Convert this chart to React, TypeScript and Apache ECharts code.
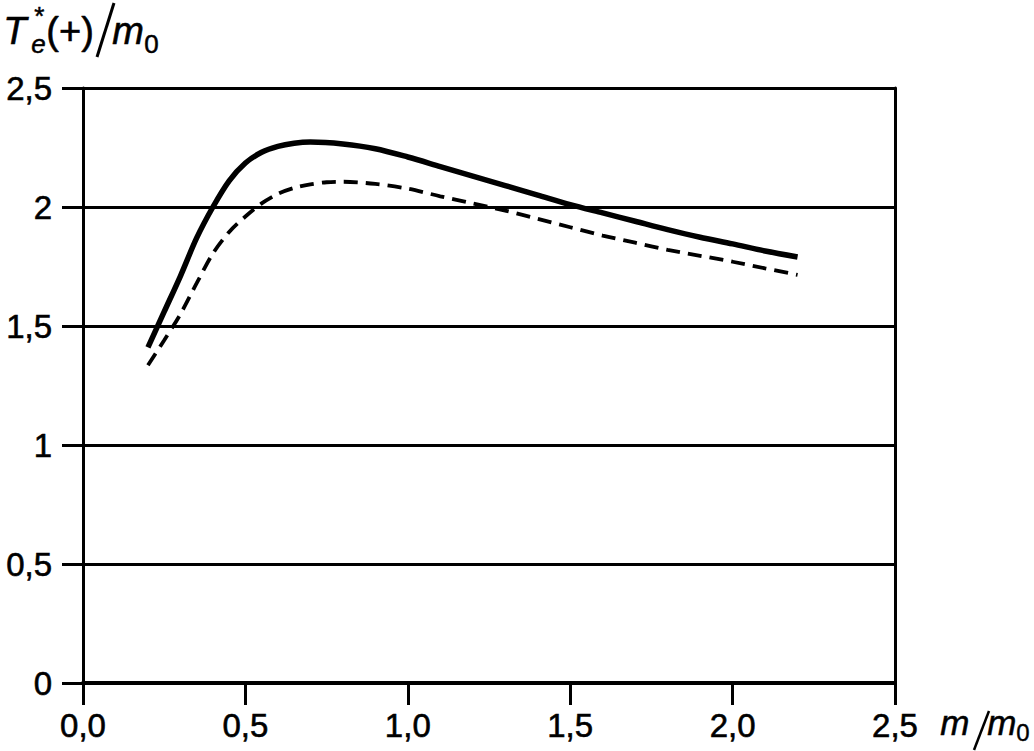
import React, { useEffect, useRef } from "react";
import * as echarts from "echarts";

const xTicks = [0, 0.5, 1.0, 1.5, 2.0, 2.5];
const yTicks = [0, 0.5, 1, 1.5, 2, 2.5];

// solid curve (m/m0, Te*(+)/m0)
const solidX = [0.2, 0.25, 0.3, 0.35, 0.4, 0.45, 0.5, 0.55, 0.6, 0.65, 0.7, 0.8, 0.9, 1.0, 1.1, 1.2, 1.3, 1.4, 1.5, 1.6, 1.7, 1.8, 1.9, 2.0, 2.1, 2.2];
const solidY = [1.41, 1.56, 1.71, 1.87, 2.0, 2.11, 2.185, 2.23, 2.255, 2.268, 2.273, 2.265, 2.245, 2.21, 2.17, 2.13, 2.09, 2.05, 2.01, 1.975, 1.94, 1.905, 1.873, 1.845, 1.815, 1.79];

// dashed curve
const dashX = [0.2, 0.25, 0.3, 0.35, 0.4, 0.45, 0.5, 0.55, 0.6, 0.65, 0.7, 0.75, 0.8, 0.9, 1.0, 1.1, 1.2, 1.3, 1.4, 1.5, 1.6, 1.7, 1.8, 1.9, 2.0, 2.1, 2.2];
const dashY = [1.335, 1.44, 1.55, 1.68, 1.805, 1.895, 1.96, 2.015, 2.055, 2.08, 2.095, 2.104, 2.106, 2.097, 2.077, 2.045, 2.015, 1.985, 1.95, 1.915, 1.88, 1.85, 1.82, 1.795, 1.77, 1.742, 1.715];

const FONT = "Liberation Sans";

export default function App() {
  const ref = useRef<HTMLDivElement>(null);
  useEffect(() => {
    if (!ref.current) return;
    const chart = echarts.init(ref.current, null, { renderer: "svg" });
    const labelStyle = {
      color: "#000",
      fontFamily: FONT,
      fontSize: 33,
      textBorderColor: "#000",
      textBorderWidth: 0.6,
    };
    chart.setOption({
      animation: false,
      backgroundColor: "#ffffff",
      grid: { left: 83, right: 139, top: 88, bottom: 68, containLabel: false },
      xAxis: {
        type: "value",
        min: xTicks[0],
        max: xTicks[xTicks.length - 1],
        interval: 0.5,
        axisLine: { show: true, onZero: false, lineStyle: { color: "#000", width: 4 } },
        axisTick: { show: true, length: 22, inside: false, lineStyle: { color: "#000", width: 3 } },
        axisLabel: {
          ...labelStyle,
          margin: 26,
          formatter: (v: number) => v.toFixed(1).replace(".", ","),
        },
        splitLine: { show: false },
      },
      yAxis: [
        {
          type: "value",
          min: yTicks[0],
          max: yTicks[yTicks.length - 1],
          interval: 0.5,
          axisLine: { show: true, lineStyle: { color: "#000", width: 3 } },
          axisTick: { show: true, length: 21, lineStyle: { color: "#000", width: 3 } },
          axisLabel: {
            ...labelStyle,
            margin: 31,
            formatter: (v: number) => String(v).replace(".", ","),
          },
          splitLine: { show: true, lineStyle: { color: "#000", width: 3 } },
        },
        {
          type: "value",
          min: yTicks[0],
          max: yTicks[yTicks.length - 1],
          interval: 0.5,
          position: "right",
          axisLine: { show: true, lineStyle: { color: "#000", width: 3 } },
          axisTick: { show: false },
          axisLabel: { show: false },
          splitLine: { show: false },
        },
      ],
      series: [
        {
          type: "line",
          data: solidX.map((x, i) => [x, solidY[i]]),
          smooth: 0.3,
          showSymbol: false,
          lineStyle: { color: "#000", width: 5.5, type: "solid", cap: "butt", join: "round" },
          z: 5,
        },
        {
          type: "line",
          data: dashX.map((x, i) => [x, dashY[i]]),
          smooth: 0.3,
          showSymbol: false,
          lineStyle: { color: "#000", width: 3.8, type: [14, 8] },
          z: 5,
        },
      ],
      graphic: [
        // y-axis title: T_e^*(+)/m_0
        { type: "text", left: 3, top: 12, style: { text: "T", font: `italic 38px ${FONT}`, fill: "#000", stroke: "#000", lineWidth: 0.6 } },
        { type: "text", left: 31, top: 31, style: { text: "e", font: `italic 26px ${FONT}`, fill: "#000", stroke: "#000", lineWidth: 0.5 } },
        { type: "text", left: 34, top: 3, style: { text: "*", font: `26px ${FONT}`, fill: "#000", stroke: "#000", lineWidth: 0.5 } },
        { type: "text", left: 46, top: 12, style: { text: "(+)", font: `38px ${FONT}`, fill: "#000", stroke: "#000", lineWidth: 0.6 } },
        { type: "line", shape: { x1: 114, y1: 3, x2: 97, y2: 57 }, style: { stroke: "#000", lineWidth: 3 } },
        { type: "text", left: 112, top: 12, style: { text: "m", font: `italic 38px ${FONT}`, fill: "#000", stroke: "#000", lineWidth: 0.6 } },
        { type: "text", left: 144, top: 31, style: { text: "0", font: `26px ${FONT}`, fill: "#000", stroke: "#000", lineWidth: 0.5 } },
        // x-axis title: m/m_0
        { type: "text", left: 940, top: 705, style: { text: "m", font: `italic 35px ${FONT}`, fill: "#000", stroke: "#000", lineWidth: 0.5 } },
        { type: "line", shape: { x1: 989, y1: 711, x2: 974, y2: 750 }, style: { stroke: "#000", lineWidth: 2.5 } },
        { type: "text", left: 987, top: 705, style: { text: "m", font: `italic 35px ${FONT}`, fill: "#000", stroke: "#000", lineWidth: 0.5 } },
        { type: "text", left: 1016, top: 720, style: { text: "0", font: `24px ${FONT}`, fill: "#000", stroke: "#000", lineWidth: 0.4 } },
      ],
    });
    return () => chart.dispose();
  }, []);
  return <div ref={ref} style={{ width: 1034, height: 751, position: "absolute", left: 0, top: 0 }} />;
}
